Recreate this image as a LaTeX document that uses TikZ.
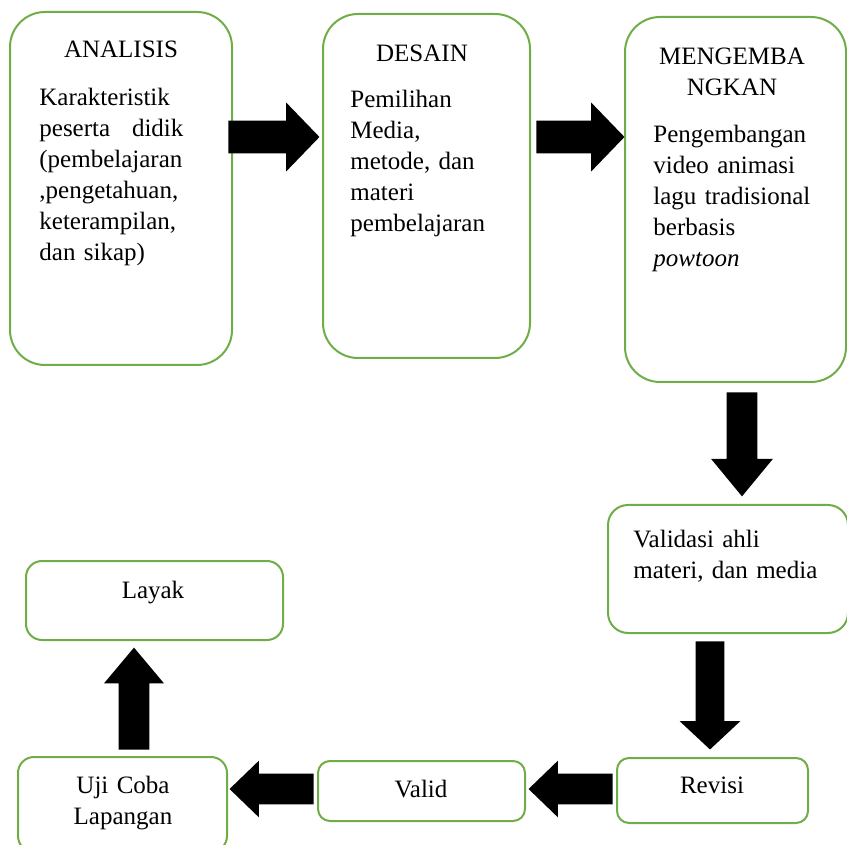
\documentclass[tikz,border=0pt]{standalone}
\usepackage{fontspec}
\setmainfont{Liberation Serif}
\usetikzlibrary{shapes.arrows}
\definecolor{boxgreen}{RGB}{112,173,71}

\begin{document}
\begin{tikzpicture}[x=0.5pt,y=-0.5pt,
    box/.style={draw=boxgreen, line width=1pt, rounded corners=#1, inner sep=0pt},
    box/.default=17.5pt,
    txt/.style={inner sep=0pt, font=\fontsize{12.5}{15.5}\selectfont},
    blk/.style={single arrow, fill=black, draw=none, inner sep=7.5pt, anchor=tip,
        single arrow head extend=#1},
    blk/.default=6.5pt]
    \useasboundingbox (0,0) rectangle (847,845);
    \clip (0,0) rectangle (847,845);

    % top row
    \node[box, minimum width=111pt, minimum height=176.5pt] (anls) at (121,188.5) {};
    \node[box, minimum width=103.5pt, minimum height=172pt] (desn) at (426.5,186) {};
    \node[box, minimum width=110.5pt, minimum height=182.5pt] (mgbk) at (735.5,199.5) {};

    \node[txt, anchor=base] (anlst) at (121,58) {ANALISIS};
    \node[txt, anchor=base west, text width=72pt, align=left] (anlsb) at (39,106)
        {Karakteristik\\ peserta\hfill didik\\ (pembelajaran\\ ,pengetahuan,\\ keterampilan,\\ dan sikap)};
    \node[txt, anchor=base] (desnt) at (422,62) {DESAIN};
    \node[txt, anchor=base west, text width=90pt, align=left] (desnb) at (350,108)
        {Pemilihan\\ Media,\\ metode, dan\\ materi\\ pembelajaran};
    \node[txt, anchor=base, text width=100pt, align=center] (mgbkt) at (732,65)
        {MENGEMBA\\ NGKAN};
    \node[txt, anchor=base west, text width=90pt, align=left] (mgbkb) at (653,143)
        {Pengembangan\\ video animasi\\ lagu tradisional\\ berbasis\\ \textit{powtoon}};

    % right column
    \node[box=10pt, minimum width=120pt, minimum height=64pt] (vldh) at (728,569) {};
    \node[txt, anchor=base west, text width=100pt, align=left] (vldht) at (633,547)
        {Validasi ahli\\ materi, dan media};
    \node[box=6pt, minimum width=95.5pt, minimum height=32.5pt] (rvsi) at (712.5,790.5) {};
    \node[txt, anchor=base] (rvsit) at (712,793) {Revisi};

    % bottom row
    \node[box=6pt, minimum width=103.5pt, minimum height=30pt] (vald) at (421.5,791) {};
    \node[txt, anchor=base] (valdt) at (421,797) {Valid};
    \node[box=8pt, minimum width=104.5pt, minimum height=47.5pt] (ujic) at (122.5,804.5) {};
    \node[txt, anchor=base, text width=100pt, align=center] (ujict) at (123,793)
        {Uji Coba\\ Lapangan};
    \node[box=8pt, minimum width=128.5pt, minimum height=39.5pt] (layk) at (154.5,600.5) {};
    \node[txt, anchor=base] (laykt) at (153,598) {Layak};

    % block arrows, placed by their tips
    \node[blk=9pt, inner sep=8pt, minimum height=45.5pt, single arrow tip angle=92] (ar1) at (320,137) {};
    \node[blk=9pt, inner sep=8pt, minimum height=44pt, single arrow tip angle=92] (ar2) at (625,137) {};
    \node[blk=7.75pt, minimum height=52pt, single arrow tip angle=79, shape border rotate=270] (ar3) at (742,497) {};
    \node[blk=8pt, inner sep=7pt, minimum height=54pt, single arrow tip angle=94, shape border rotate=270] (ar4) at (710,750) {};
    \node[blk, minimum height=42pt, single arrow tip angle=88, shape border rotate=180] (ar5) at (528,789) {};
    \node[blk, minimum height=42pt, single arrow tip angle=88, shape border rotate=180] (ar6) at (229,789) {};
    \node[blk=7.25pt, minimum height=51pt, single arrow tip angle=80, shape border rotate=90] (ar7) at (134,647) {};
\end{tikzpicture}
\end{document}
